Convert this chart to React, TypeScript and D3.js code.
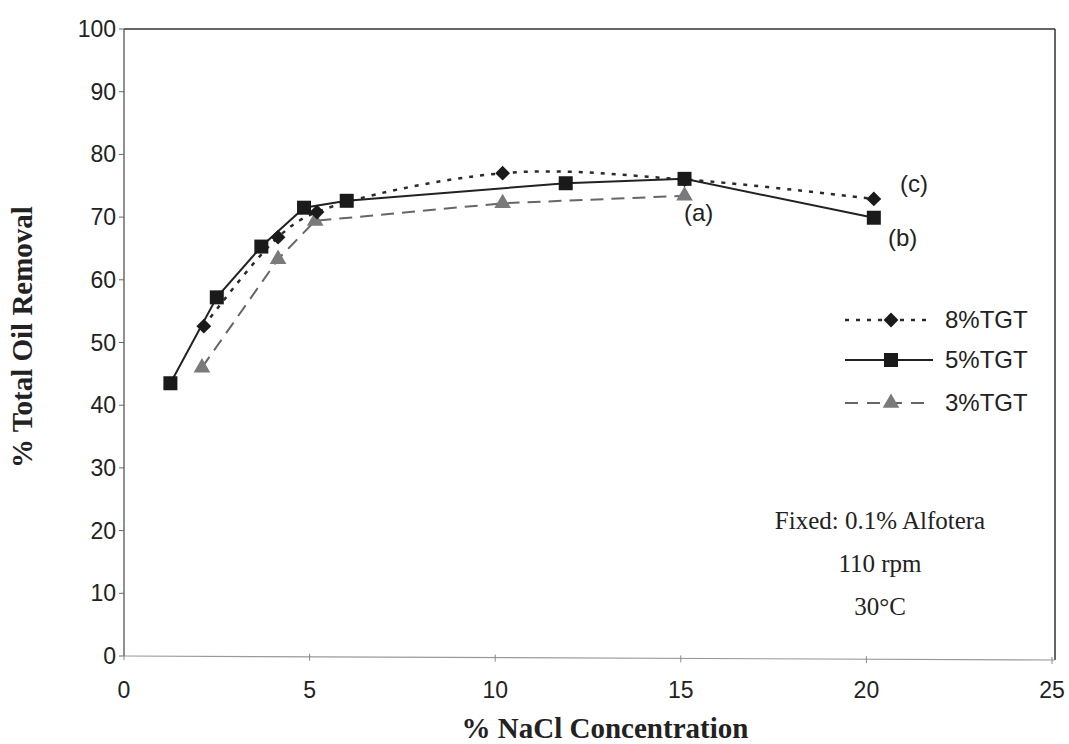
import React from "react";
import * as d3 from "d3";

// values
const xTicks = [0, 5, 10, 15, 20, 25];
const yTicks = [0, 10, 20, 30, 40, 50, 60, 70, 80, 90, 100];

const tgt8X = [2.15, 4.15, 5.2, 10.2, 15.1, 20.2];
const tgt8Y = [52.6, 66.8, 70.8, 77.0, 76.0, 72.9];

const tgt5X = [1.25, 2.5, 3.7, 4.85, 6.0, 11.9, 15.1, 20.2];
const tgt5Y = [43.5, 57.2, 65.3, 71.5, 72.6, 75.4, 76.1, 69.9];

const tgt3X = [2.1, 4.15, 5.15, 10.2, 15.1];
const tgt3Y = [46.0, 63.3, 69.4, 72.2, 73.4];

const legendLabels = ["8%TGT", "5%TGT", "3%TGT"];
const notes = ["Fixed: 0.1% Alfotera", "110 rpm", "30°C"];

const W = 1069;
const H = 744;

const sans = "'Liberation Sans', Arial, sans-serif";
const serif = "'Liberation Serif', 'Times New Roman', serif";

export default function App() {
  const x = d3.scaleLinear().domain([0, 25]).range([124, 1052]);
  const y = d3.scaleLinear().domain([0, 100]).range([656, 29]);

  const pts = (xs: number[], ys: number[]) => xs.map((v, i) => [v, ys[i]] as [number, number]);

  const smooth = d3
    .line<[number, number]>()
    .x((d) => x(d[0]))
    .y((d) => y(d[1]))
    .curve(d3.curveCatmullRom.alpha(0.5));
  const straight = d3
    .line<[number, number]>()
    .x((d) => x(d[0]))
    .y((d) => y(d[1]));

  const diamond = d3.symbol(d3.symbolDiamond2, 140)();
  const tri = d3.symbol(d3.symbolTriangle, 120)();

  const right = 1055;
  const top = y(100);
  const bottom = y(0);

  const legendY = [320, 360, 403];

  return (
    <svg
      width={W}
      height={H}
      style={{ position: "absolute", left: 0, top: 0, background: "#fff" }}
    >
      {/* frame */}
      <line x1={x(0)} x2={right} y1={top} y2={top} stroke="#333" strokeWidth={1.5} />
      <line x1={right} x2={right} y1={top} y2={bottom + 4} stroke="#333" strokeWidth={1.5} />
      <line x1={x(0)} x2={x(0)} y1={top} y2={bottom} stroke="#555" strokeWidth={1.3} />
      <line x1={x(0)} x2={right} y1={bottom} y2={bottom + 4} stroke="#999" strokeWidth={1.2} />

      {/* y axis */}
      {yTicks.map((t) => (
        <g key={"y" + t}>
          <line x1={x(0) - 5} x2={x(0)} y1={y(t)} y2={y(t)} stroke="#666" />
          <text
            x={116}
            y={y(t)}
            dy="0.35em"
            textAnchor="end"
            fontFamily={sans}
            fontSize={23}
            fill="#222"
          >
            {t}
          </text>
        </g>
      ))}

      {/* x axis */}
      {xTicks.map((t) => (
        <g key={"x" + t}>
          <line x1={x(t)} x2={x(t)} y1={bottom - 3 + t * 0.16} y2={bottom + 4 + t * 0.16} stroke="#888" />
          <text x={x(t)} y={698} textAnchor="middle" fontFamily={sans} fontSize={23} fill="#222">
            {t}
          </text>
        </g>
      ))}

      <text
        x={605}
        y={738}
        textAnchor="middle"
        fontFamily={serif}
        fontWeight="bold"
        fontSize={29}
        fill="#222"
      >
        % NaCl Concentration
      </text>
      <text
        transform={`translate(32,337) rotate(-90)`}
        textAnchor="middle"
        fontFamily={serif}
        fontWeight="bold"
        fontSize={29}
        fill="#222"
      >
        % Total Oil Removal
      </text>

      {/* series lines */}
      <path
        d={smooth(pts(tgt8X, tgt8Y)) || ""}
        fill="none"
        stroke="#2a2a2a"
        strokeWidth={2.5}
        strokeDasharray="4,7"
      />
      <path
        d={straight(pts(tgt3X, tgt3Y)) || ""}
        fill="none"
        stroke="#666"
        strokeWidth={2}
        strokeDasharray="13,8"
      />
      <path d={straight(pts(tgt5X, tgt5Y)) || ""} fill="none" stroke="#222" strokeWidth={2} />

      {/* markers */}
      {pts(tgt3X, tgt3Y).map((d, i) => (
        <path key={"t" + i} d={tri || ""} transform={`translate(${x(d[0])},${y(d[1])})`} fill="#7a7a7a" />
      ))}
      {pts(tgt8X, tgt8Y).map((d, i) => (
        <path key={"d" + i} d={diamond || ""} transform={`translate(${x(d[0])},${y(d[1])})`} fill="#1a1a1a" />
      ))}
      {pts(tgt5X, tgt5Y).map((d, i) => (
        <rect key={"s" + i} x={x(d[0]) - 7} y={y(d[1]) - 7} width={14} height={14} fill="#1a1a1a" />
      ))}

      {/* curve labels */}
      <text x={900} y={192} fontFamily={sans} fontSize={24} fill="#222">(c)</text>
      <text x={684} y={221} fontFamily={sans} fontSize={24} fill="#222">(a)</text>
      <text x={888} y={246} fontFamily={sans} fontSize={24} fill="#222">(b)</text>

      {/* legend */}
      <line x1={845} x2={933} y1={legendY[0]} y2={legendY[0]} stroke="#2a2a2a" strokeWidth={2.5} strokeDasharray="4,7" />
      <path d={diamond || ""} transform={`translate(891,${legendY[0]})`} fill="#1a1a1a" />
      <line x1={845} x2={933} y1={legendY[1]} y2={legendY[1]} stroke="#222" strokeWidth={2} />
      <rect x={884} y={legendY[1] - 7} width={14} height={14} fill="#1a1a1a" />
      <line x1={845} x2={933} y1={legendY[2]} y2={legendY[2]} stroke="#666" strokeWidth={2} strokeDasharray="13,9" />
      <path d={tri || ""} transform={`translate(891,${legendY[2]})`} fill="#7a7a7a" />
      {legendLabels.map((l, i) => (
        <text key={l} x={945} y={legendY[i]} dy="0.35em" fontFamily={sans} fontSize={24} fill="#222">
          {l}
        </text>
      ))}

      {/* fixed conditions */}
      {notes.map((n, i) => (
        <text
          key={n}
          x={880}
          y={529 + i * 43}
          textAnchor="middle"
          fontFamily={serif}
          fontSize={25}
          fill="#222"
        >
          {n}
        </text>
      ))}
    </svg>
  );
}
